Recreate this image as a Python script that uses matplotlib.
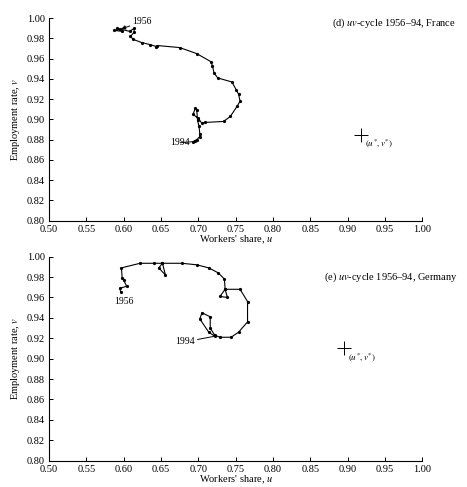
import matplotlib
matplotlib.use("Agg")
import matplotlib.pyplot as plt

plt.rcParams['font.family'] = ['Liberation Serif', 'DejaVu Serif']
plt.rcParams['mathtext.fontset'] = 'stix'

# France uv trajectory 1956-94
fr_u = [0.595, 0.587, 0.598, 0.591, 0.608, 0.614, 0.614, 0.609, 0.613, 0.624,
        0.635, 0.644, 0.645, 0.675, 0.698, 0.717, 0.719, 0.721, 0.726, 0.745,
        0.751, 0.754, 0.756, 0.752, 0.743, 0.734, 0.709, 0.705, 0.700, 0.693,
        0.696, 0.698, 0.699, 0.701, 0.702, 0.702, 0.698, 0.695, 0.693]
fr_v = [0.989, 0.988, 0.987, 0.990, 0.987, 0.990, 0.986, 0.982, 0.979, 0.976,
        0.974, 0.972, 0.973, 0.971, 0.965, 0.957, 0.953, 0.946, 0.941, 0.937,
        0.929, 0.925, 0.918, 0.913, 0.903, 0.898, 0.897, 0.896, 0.901, 0.905,
        0.911, 0.909, 0.899, 0.893, 0.886, 0.883, 0.880, 0.879, 0.878]
fr_eq = (0.918, 0.885)

# Germany uv trajectory 1956-94
de_u = [0.596, 0.595, 0.604, 0.600, 0.598, 0.597, 0.622, 0.640, 0.652, 0.647,
        0.656, 0.652, 0.678, 0.698, 0.714, 0.727, 0.735, 0.736, 0.729, 0.739,
        0.736, 0.756, 0.766, 0.766, 0.754, 0.744, 0.729, 0.722, 0.716, 0.716,
        0.705, 0.702, 0.714, 0.722]
de_v = [0.965, 0.969, 0.971, 0.977, 0.979, 0.989, 0.9935, 0.9935, 0.9935, 0.989,
        0.982, 0.9935, 0.9935, 0.992, 0.989, 0.984, 0.978, 0.968, 0.961, 0.960,
        0.968, 0.968, 0.956, 0.936, 0.926, 0.921, 0.921, 0.923, 0.930, 0.941,
        0.945, 0.939, 0.926, 0.922]
de_eq = (0.895, 0.910)

xticks = [0.50, 0.55, 0.60, 0.65, 0.70, 0.75, 0.80, 0.85, 0.90, 0.95, 1.00]
yticks = [0.80, 0.82, 0.84, 0.86, 0.88, 0.90, 0.92, 0.94, 0.96, 0.98, 1.00]

fig = plt.figure(figsize=(4.67, 4.87), dpi=100)
ax1 = fig.add_axes([0.105, 0.547, 0.799, 0.4156])
ax2 = fig.add_axes([0.105, 0.054, 0.799, 0.419])

def style(ax):
    ax.set_xlim(0.5, 1.0)
    ax.set_ylim(0.8, 1.0)
    ax.set_xticks(xticks)
    ax.set_yticks(yticks)
    ax.set_xticklabels([f"{t:.2f}" for t in xticks])
    ax.set_yticklabels([f"{t:.2f}" for t in yticks])
    for s in ['top', 'right']:
        ax.spines[s].set_visible(False)
    for s in ['left', 'bottom']:
        ax.spines[s].set_linewidth(0.8)
    ax.tick_params(direction='in', length=3, width=0.7, labelsize=7.5)
    ax.tick_params(axis='x', pad=3)
    ax.tick_params(axis='y', pad=3)
    ax.set_xlabel("Workers' share, $u$", fontsize=7.5, labelpad=0)
    ax.set_ylabel("Employment rate, $v$", fontsize=7.5, labelpad=3)

style(ax1)
style(ax2)

ax1.plot(fr_u, fr_v, '-', color='black', lw=0.8, marker='o', ms=1.3)
ax1.plot([fr_eq[0]], [fr_eq[1]], marker='+', ms=10, color='black', mew=0.7)
ax1.text(fr_eq[0] + 0.006, fr_eq[1] - 0.003, "$(u^{*}, v^{*})$", fontsize=6.5, va='top')
ax1.annotate("1956", xy=(fr_u[0], fr_v[0]), xytext=(0.612, 0.9965), fontsize=7,
             ha='left', va='center',
             arrowprops=dict(arrowstyle='-|>', color='black', lw=0.7, mutation_scale=6,
                             shrinkA=0, shrinkB=1))
ax1.annotate("1994", xy=(fr_u[-1], fr_v[-1]), xytext=(0.663, 0.877), fontsize=7,
             ha='left', va='center',
             arrowprops=dict(arrowstyle='-', color='black', lw=0.7, shrinkA=0, shrinkB=0))
ax1.text(1.045, 0.995, "(d) $uv$-cycle 1956–94, France", fontsize=7.5, ha='right', va='center')

ax2.plot(de_u, de_v, '-', color='black', lw=0.8, marker='o', ms=1.3)
ax2.plot([de_eq[0]], [de_eq[1]], marker='+', ms=10, color='black', mew=0.7)
ax2.text(de_eq[0] + 0.006, de_eq[1] - 0.003, "$(u^{*}, v^{*})$", fontsize=6.5, va='top')
ax2.text(0.6, 0.9605, "1956", fontsize=7, ha='center', va='top')
ax2.annotate("1994", xy=(de_u[-1], de_v[-1]), xytext=(0.669, 0.9165), fontsize=7,
             ha='left', va='center',
             arrowprops=dict(arrowstyle='-', color='black', lw=0.7, shrinkA=0, shrinkB=0))
ax2.text(1.048, 0.98, "(e) $uv$-cycle 1956–94, Germany", fontsize=7.5, ha='right', va='center')

fig.savefig("out.png", dpi=100)
